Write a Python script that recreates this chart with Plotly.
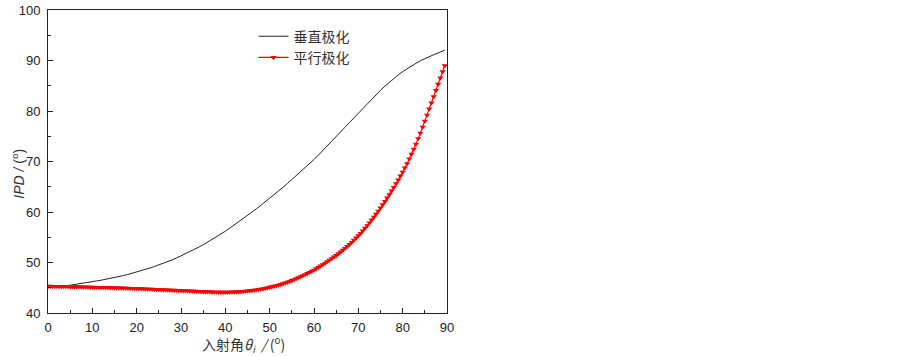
import plotly.graph_objects as go

# Perpendicular polarisation (black line), 1 degree steps
angle_perp = list(range(0, 90)) + [89.5]
ipd_perp = [
    45.20, 45.22, 45.26, 45.31, 45.38, 45.50, 45.62, 45.76, 45.90, 46.05,
    46.20, 46.35, 46.50, 46.66, 46.83, 47.00, 47.20, 47.41, 47.63, 47.86,
    48.10, 48.36, 48.63, 48.91, 49.20, 49.50, 49.83, 50.17, 50.52, 50.90,
    51.30, 51.72, 52.15, 52.59, 53.04, 53.50, 54.02, 54.55, 55.09, 55.64,
    56.20, 56.80, 57.41, 58.03, 58.66, 59.30, 59.96, 60.63, 61.31, 62.00,
    62.70, 63.42, 64.15, 64.89, 65.64, 66.40, 67.18, 67.97, 68.77, 69.58,
    70.40, 71.28, 72.17, 73.07, 73.98, 74.90, 75.84, 76.78, 77.72, 78.66,
    79.60, 80.52, 81.43, 82.33, 83.22, 84.10, 84.92, 85.70, 86.44, 87.14,
    87.80, 88.40, 88.95, 89.45, 89.95, 90.40, 90.80, 91.15, 91.50, 91.85,
    92.05,
]

# Parallel polarisation (red line with markers), 0.5 degree steps
angle_par = [i * 0.5 for i in range(180)]
ipd_par = [
    45.30, 45.30, 45.29, 45.29, 45.28, 45.27, 45.26, 45.25, 45.24, 45.23,
    45.22, 45.21, 45.20, 45.19, 45.18, 45.17, 45.16, 45.15, 45.13, 45.12,
    45.10, 45.09, 45.08, 45.07, 45.06, 45.05, 45.04, 45.03, 45.02, 45.01,
    45.00, 44.99, 44.97, 44.96, 44.94, 44.93, 44.91, 44.90, 44.88, 44.87,
    44.85, 44.83, 44.81, 44.79, 44.77, 44.75, 44.73, 44.71, 44.69, 44.67,
    44.65, 44.63, 44.61, 44.59, 44.57, 44.55, 44.53, 44.51, 44.49, 44.47,
    44.45, 44.43, 44.41, 44.39, 44.37, 44.35, 44.33, 44.31, 44.29, 44.27,
    44.25, 44.23, 44.21, 44.19, 44.17, 44.15, 44.14, 44.13, 44.12, 44.12,
    44.12, 44.13, 44.14, 44.16, 44.18, 44.20, 44.23, 44.26, 44.30, 44.34,
    44.38, 44.43, 44.48, 44.54, 44.60, 44.67, 44.74, 44.82, 44.90, 45.00,
    45.10, 45.20, 45.30, 45.41, 45.53, 45.66, 45.80, 45.95, 46.10, 46.27,
    46.45, 46.63, 46.82, 47.01, 47.21, 47.41, 47.62, 47.83, 48.05, 48.27,
    48.50, 48.77, 49.04, 49.32, 49.60, 49.89, 50.18, 50.48, 50.78, 51.09,
    51.40, 51.74, 52.08, 52.44, 52.80, 53.19, 53.58, 54.00, 54.42, 54.86,
    55.30, 55.79, 56.28, 56.80, 57.32, 57.87, 58.42, 59.00, 59.58, 60.19,
    60.80, 61.45, 62.10, 62.78, 63.46, 64.17, 64.88, 65.62, 66.36, 67.13,
    67.90, 68.75, 69.60, 70.53, 71.46, 72.45, 73.44, 74.53, 75.62, 76.81,
    78.00, 79.20, 80.40, 81.62, 82.84, 84.07, 85.30, 86.54, 87.78, 89.00,
]

x_ticks = [0, 10, 20, 30, 40, 50, 60, 70, 80, 90]
y_ticks = [40, 50, 60, 70, 80, 90, 100]

name_perp = "垂直极化"
name_par = "平行极化"
x_title = "入射角<i>θ</i><sub><i>i</i></sub>  <i>/</i> (<sup>o</sup>)"
y_title = "<i>IPD / </i>(<sup>o</sup>)"

fig = go.Figure()
fig.add_trace(go.Scatter(
    x=angle_perp, y=ipd_perp, mode="lines", name=name_perp,
    line=dict(color="#222222", width=1),
))
fig.add_trace(go.Scatter(
    x=angle_par, y=ipd_par, mode="lines+markers", name=name_par,
    line=dict(color="#ff0000", width=1.2),
    marker=dict(symbol="triangle-down", size=5.5, color="#ff0000"),
))

axis_font = dict(family="Arial, Liberation Sans, sans-serif", size=13, color="#222222")

fig.update_layout(
    width=903, height=356,
    margin=dict(l=48, r=456, t=10, b=43, autoexpand=False),
    paper_bgcolor="white", plot_bgcolor="white",
    showlegend=True,
    legend=dict(
        x=0.515, y=0.965, xanchor="left", yanchor="top",
        bgcolor="rgba(0,0,0,0)", borderwidth=0,
        font=dict(family="Noto Sans CJK SC, sans-serif", size=14, color="#333333"),
        itemwidth=30, tracegroupgap=0,
    ),
    annotations=[
        dict(text=x_title, xref="paper", yref="paper", x=0.49, y=-0.06,
             xanchor="center", yanchor="top", showarrow=False,
             font=dict(family="Noto Sans CJK SC, Arial, sans-serif", size=14, color="#333333")),
        dict(text=y_title, xref="paper", yref="paper", x=-0.075, y=0.46,
             xanchor="center", yanchor="middle", showarrow=False, textangle=-90,
             font=dict(family="Arial, Liberation Sans, sans-serif", size=14, color="#333333")),
    ],
)
fig.update_xaxes(
    range=[0, 90], tickvals=x_ticks, ticks="inside", ticklen=5, tickwidth=1,
    tickcolor="#222222",
    minor=dict(dtick=5, ticks="inside", ticklen=3, tickcolor="#222222"),
    showline=True, linecolor="#222222", linewidth=1, mirror=True,
    showgrid=False, zeroline=False, tickfont=axis_font, automargin=False,
    ticklabelstandoff=2,
)
fig.update_yaxes(
    range=[40, 100], tickvals=y_ticks, ticks="inside", ticklen=5, tickwidth=1,
    tickcolor="#222222",
    minor=dict(dtick=5, ticks="inside", ticklen=3, tickcolor="#222222"),
    showline=True, linecolor="#222222", linewidth=1, mirror=True,
    showgrid=False, zeroline=False, tickfont=axis_font, automargin=False,
    ticklabelstandoff=4,
)

# Remove the default 8px page margin so the figure fills the window exactly.
fig.write_html("out.html", config={"displayModeBar": False},
               post_script="document.body.style.margin='0';")
